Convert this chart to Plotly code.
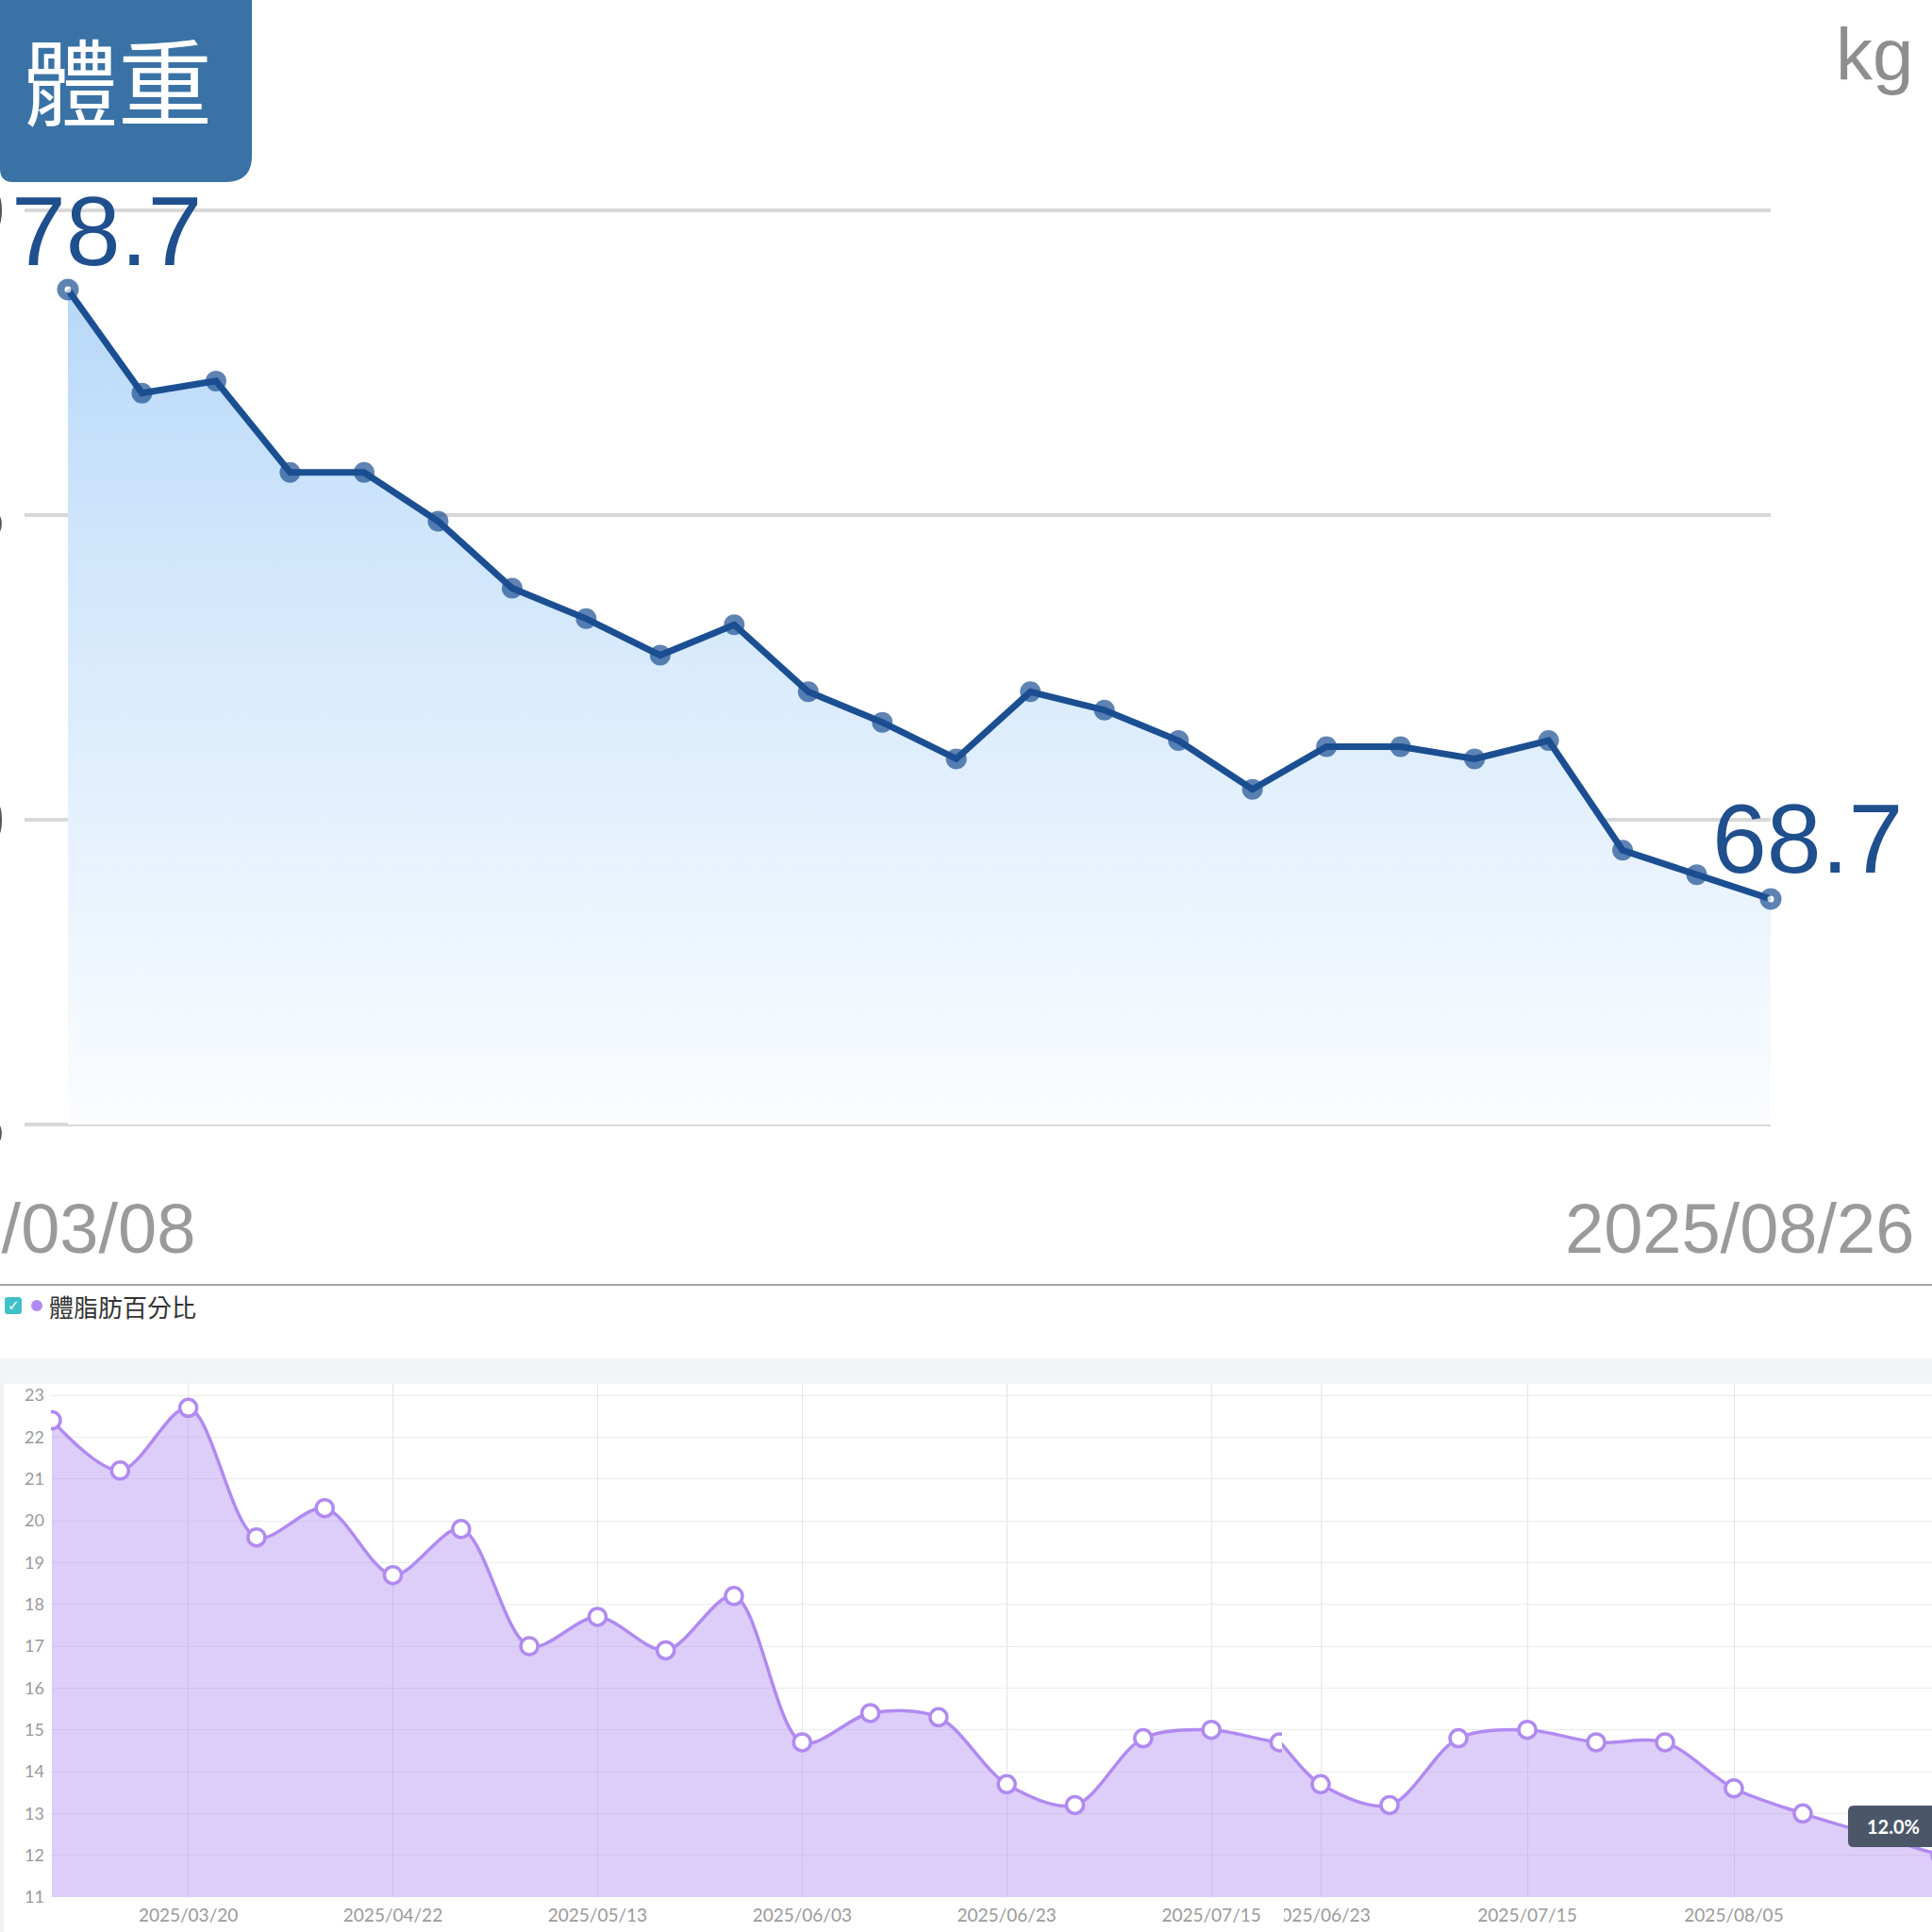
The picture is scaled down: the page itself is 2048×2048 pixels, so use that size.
import plotly.graph_objects as go

W = 2048

# ---------------- data ----------------
weight_title = "體重"
weight_unit = "kg"
weight = [78.7, 77.0, 77.2, 75.7, 75.7, 74.9, 73.8, 73.3, 72.7, 73.2, 72.1, 71.6,
          71.0, 72.1, 71.8, 71.3, 70.5, 71.2, 71.2, 71.0, 71.3, 69.5, 69.1, 68.7]
weight_first_date = "2025/03/08"
weight_last_date = "2025/08/26"
weight_ticks = [65, 70, 75, 80]
weight_tick_text = ["65", "70", "75", "80"]

fat_name = "體脂肪百分比"
fat = [22.4, 21.2, 22.7, 19.6, 20.3, 18.7, 19.8, 17.0, 17.7, 16.9, 18.2, 14.7,
       15.4, 15.3, 13.7, 13.2, 14.8, 15.0, 14.7, 14.7, 13.6, 13.0, 12.5, 12.0]
fat_tick_idx = [2, 5, 8, 11, 14, 17, 20, 23]
fat_tick_text = ["2025/03/20", "2025/04/22", "2025/05/13", "2025/06/03",
                 "2025/06/23", "2025/07/15", "2025/08/05", "2025/08/26"]
fat_y_ticks = list(range(11, 24))

# ---------------- helpers ----------------
def px(v):
    return v / W

def py(v):
    return 1 - v / W

BLUE = "#1b4f92"
PURPLE = "#b08af0"
CJK = "Noto Sans CJK TC"

n = len(weight)
widx = list(range(n))
fidx = list(range(len(fat)))

fig = go.Figure()

# weight: baseline for gradient fill
fig.add_trace(go.Scatter(x=widx, y=[weight_ticks[0]] * n, mode="lines",
                         line=dict(width=0, color="rgba(0,0,0,0)"),
                         hoverinfo="skip", showlegend=False, xaxis="x", yaxis="y"))
hollow = [i in (0, n - 1) for i in widx]
fig.add_trace(go.Scatter(
    x=widx, y=weight, mode="lines+markers", fill="tonexty",
    fillgradient=dict(type="vertical",
                      colorscale=[[0, "#fbfdff"], [0.35, "#e5f1fd"], [0.7, "#cee5fb"], [1, "#b6d7f8"]],
                      start=65, stop=79),
    line=dict(color=BLUE, width=7),
    marker=dict(size=[15 if h else 22 for h in hollow],
                color=["white" if h else BLUE for h in hollow],
                line=dict(color=BLUE, width=[8 if h else 0 for h in hollow])),
    cliponaxis=False, showlegend=False, xaxis="x", yaxis="y"))

# body fat: same series shown in two stitched views
for xa, ya in (("x2", "y2"), ("x3", "y3")):
    fig.add_trace(go.Scatter(
        x=fidx, y=fat, mode="lines+markers", fill="tozeroy",
        fillcolor="rgba(177,140,242,0.43)",
        line=dict(color=PURPLE, width=3.5, shape="spline", smoothing=0.9),
        marker=dict(size=18, color="white", line=dict(color=PURPLE, width=3.5)),
        showlegend=False, xaxis=xa, yaxis=ya, name=fat_name))

# ---------------- axes ----------------
top_x0, top_x1 = 26, 1877
step_top = (top_x1 - 72) / (n - 1)
top_y_top, top_y_bot = 200, 1215
ppk = (1192 - 223) / 15.0
fig.update_layout(
    xaxis=dict(domain=[px(top_x0), px(top_x1)], range=[-(72 - top_x0) / step_top, n - 1],
               visible=False, anchor="y"),
    yaxis=dict(domain=[py(top_y_bot), py(top_y_top)],
               range=[65 - (top_y_bot - 1192) / ppk, 80 + (223 - top_y_top) / ppk],
               tickvals=weight_ticks, ticktext=weight_tick_text,
               showgrid=True, gridcolor="#d8d8d8", gridwidth=4, zeroline=False,
               showline=False, ticks="", ticklabelstandoff=20, automargin=False,
               tickfont=dict(family="Liberation Sans", size=74, color="#555555"),
               anchor="x"),
)

step_b = 72.3
L0, SEAM = 54, 1359
r2_start = -1 / step_b
r2_end = r2_start + (SEAM - L0) / step_b
r3_start = 14 - (1400 - SEAM) / 73.0
r3_end = r3_start + (W - SEAM) / 73.0
y_dom = [py(2011), py(1467)]
y_rng = [11, 23 + 12 / 44.3]
xcommon = dict(tickvals=fat_tick_idx, ticktext=fat_tick_text, showgrid=True,
               gridcolor="#e6e3ec", gridwidth=1, zeroline=False, showline=False,
               ticks="", ticklabelstandoff=6, automargin=False,
               tickfont=dict(family="Lato", size=19, color="#9a9a9a"))
fig.update_layout(
    xaxis2=dict(domain=[px(L0), px(SEAM)], range=[r2_start, r2_end], anchor="y2", **xcommon),
    xaxis3=dict(domain=[px(SEAM), 1], range=[r3_start, r3_end], anchor="y3", **xcommon),
    yaxis2=dict(domain=y_dom, range=y_rng, tickvals=fat_y_ticks, showgrid=True,
                gridcolor="#ebebeb", gridwidth=1, zeroline=False, showline=False,
                ticks="", ticklabelstandoff=6, automargin=False, anchor="x2",
                tickfont=dict(family="Lato", size=18, color="#9a9a9a")),
    yaxis3=dict(domain=y_dom, range=y_rng, tickvals=fat_y_ticks, showgrid=True,
                gridcolor="#ebebeb", gridwidth=1, zeroline=False, showline=False,
                showticklabels=False, automargin=False, anchor="x3"),
)

# ---------------- decorations ----------------
shapes = []
bx1, by0, rr, rl = px(267), py(193), px(28), px(14)
shapes.append(dict(type="path", xref="paper", yref="paper", layer="above",
                   path=f"M 0,1 L {bx1},1 L {bx1},{by0 + rr} Q {bx1},{by0} {bx1 - rr},{by0} "
                        f"L {rl},{by0} Q 0,{by0} 0,{by0 + rl} Z",
                   fillcolor="#3a72a6", line=dict(width=0)))
shapes.append(dict(type="line", xref="paper", yref="paper", x0=0, x1=1, y0=py(1362), y1=py(1362),
                   line=dict(color="#a4a4a4", width=2)))
shapes.append(dict(type="rect", xref="paper", yref="paper", x0=0, x1=1, y0=py(1467), y1=py(1440),
                   fillcolor="#f3f4f6", line=dict(width=0), layer="below"))
shapes.append(dict(type="rect", xref="paper", yref="paper", x0=0, x1=px(4), y0=0, y1=py(1467),
                   fillcolor="#eef0f3", line=dict(width=0), layer="below"))
# checkbox
cx0, cx1, cy0, cy1, cr = px(5), px(23), py(1393), py(1375), px(3)
shapes.append(dict(type="path", xref="paper", yref="paper",
                   path=f"M {cx0 + cr},{cy0} L {cx1 - cr},{cy0} Q {cx1},{cy0} {cx1},{cy0 + cr} "
                        f"L {cx1},{cy1 - cr} Q {cx1},{cy1} {cx1 - cr},{cy1} L {cx0 + cr},{cy1} "
                        f"Q {cx0},{cy1} {cx0},{cy1 - cr} L {cx0},{cy0 + cr} Q {cx0},{cy0} {cx0 + cr},{cy0} Z",
                   fillcolor="#40c1c8", line=dict(width=0)))
shapes.append(dict(type="circle", xref="paper", yref="paper", x0=px(33), x1=px(45),
                   y0=py(1390), y1=py(1378), fillcolor=PURPLE, line=dict(width=0)))
# seam cover of clipped tick label
shapes.append(dict(type="rect", xref="paper", yref="paper", x0=px(1338), x1=px(1361),
                   y0=0, y1=py(2014), fillcolor="white", line=dict(width=0), layer="above"))
# tooltip box
tx0, tx1, ty0, ty1, tr = px(1959), px(2070), py(1958), py(1914), px(6)
shapes.append(dict(type="path", xref="paper", yref="paper", layer="above",
                   path=f"M {tx0 + tr},{ty0} L {tx1},{ty0} L {tx1},{ty1} L {tx0 + tr},{ty1} "
                        f"Q {tx0},{ty1} {tx0},{ty1 - tr} L {tx0},{ty0 + tr} Q {tx0},{ty0} {tx0 + tr},{ty0} Z",
                   fillcolor="#4b5769", line=dict(width=0)))

ann = []
ann.append(dict(text=weight_title, xref="paper", yref="paper", x=px(125), y=py(82),
                xanchor="center", yanchor="middle", showarrow=False,
                font=dict(family=CJK, size=100, color="white")))
ann.append(dict(text=weight_unit, xref="paper", yref="paper", x=px(2030), y=py(58),
                xanchor="right", yanchor="middle", showarrow=False,
                font=dict(family="Liberation Sans", size=78, color="#8e8e8e")))
ann.append(dict(text=f"{weight[0]:.1f}", xref="x", yref="y", x=0, y=weight[0],
                xanchor="left", yanchor="middle", xshift=-62, yshift=62, showarrow=False,
                font=dict(family="Liberation Sans", size=104, color="#1f4f8d")))
ann.append(dict(text=f"{weight[-1]:.1f}", xref="x", yref="y", x=n - 1, y=weight[-1],
                xanchor="left", yanchor="middle", xshift=-64, yshift=64, showarrow=False,
                font=dict(family="Liberation Sans", size=104, color="#1f4f8d")))
ann.append(dict(text=weight_first_date, xref="paper", yref="paper", x=px(209), y=py(1302),
                xanchor="right", yanchor="middle", showarrow=False,
                font=dict(family="Liberation Sans", size=74, color="#9a9a9a")))
ann.append(dict(text=weight_last_date, xref="paper", yref="paper", x=px(2031), y=py(1302),
                xanchor="right", yanchor="middle", showarrow=False,
                font=dict(family="Liberation Sans", size=74, color="#9a9a9a")))
ann.append(dict(text="✓", xref="paper", yref="paper", x=px(14), y=py(1384),
                xanchor="center", yanchor="middle", showarrow=False,
                font=dict(family="DejaVu Sans", size=15, color="white")))
ann.append(dict(text=fat_name, xref="paper", yref="paper", x=px(50), y=py(1384),
                xanchor="left", yanchor="middle", showarrow=False,
                font=dict(family=CJK, size=26, color="#333333")))
ann.append(dict(text=f"<b>{fat[-1]:.1f}%</b>", xref="paper", yref="paper", x=px(2007), y=py(1936),
                xanchor="center", yanchor="middle", showarrow=False,
                font=dict(family="Lato", size=20, color="white")))
ann.append(dict(text=fat_tick_text[-1], xref="x3", yref="paper", x=fat_tick_idx[-1], y=py(2031),
                xanchor="center", yanchor="middle", showarrow=False,
                font=dict(family="Lato", size=19, color="#9a9a9a")))

fig.update_layout(width=W, height=W, margin=dict(l=0, r=0, t=0, b=0),
                  template="none", paper_bgcolor="white", plot_bgcolor="rgba(0,0,0,0)",
                  showlegend=False, shapes=shapes, annotations=ann,
                  font=dict(family="Lato"))

fig.write_html("out.html", config={"displayModeBar": False},
               post_script="document.body.style.margin='0px';")
